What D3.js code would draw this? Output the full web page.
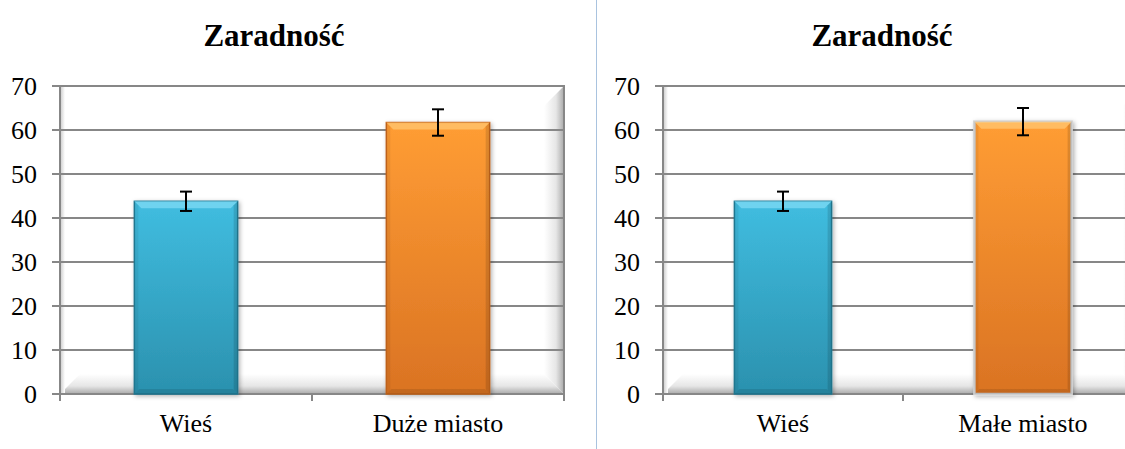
<!DOCTYPE html>
<meta charset="utf-8">
<html>
<head>
    <title>Zaradność</title>
</head>
<style type="text/css">
    body { margin: 0; background: #fff; }
</style>
<script src="https://cdn.jsdelivr.net/npm/d3@7"></script>
<body>
<script type="text/javascript">
// values
var titleText = "Zaradność"
var yTicks = [0, 10, 20, 30, 40, 50, 60, 70]
var leftCategories = ["Wieś", "Duże miasto"]
var leftValues = [43.8, 61.7]
var leftErrors = [2.2, 3.0]
var rightCategories = ["Wieś", "Małe miasto"]
var rightValues = [43.8, 61.9]
var rightErrors = [2.2, 3.1]

var serif = "'Liberation Serif', 'Times New Roman', Tinos, 'DejaVu Serif', serif"
var width = 1125, height = 449
var svg = d3.select("body").append("svg")
    .attr("width", width)
    .attr("height", height)
    .attr("font-family", serif)

var defs = svg.append("defs")

function vgrad(id, stops, horizontal){
    var g = defs.append("linearGradient").attr("id", id)
        .attr("x1", 0).attr("y1", 0)
        .attr("x2", horizontal ? 1 : 0).attr("y2", horizontal ? 0 : 1)
    stops.forEach(s => g.append("stop").attr("offset", s[0]).attr("stop-color", s[1]))
}
vgrad("blueFill", [[0, "#40bde0"], [1, "#2b91ae"]])
vgrad("orangeFill", [[0, "#ff9d34"], [1, "#da7323"]])
vgrad("floorFill", [[0, "#ffffff"], [0.6, "#e6e6e6"], [1, "#a9a9a9"]])
vgrad("wallFill", [[0, "#ffffff"], [0.6, "#e6e6e6"], [1, "#a9a9a9"]], true)
vgrad("axisShade", [[0, "#c8c8c8"], [1, "#ffffff"]], true)

defs.append("filter").attr("id", "shadow")
    .attr("x", "-10%").attr("y", "-10%").attr("width", "130%").attr("height", "130%")
    .append("feDropShadow")
    .attr("dx", 1.5).attr("dy", 1.5).attr("stdDeviation", 2)
    .attr("flood-color", "#000").attr("flood-opacity", 0.3)

var y = d3.scaleLinear().domain([0, 70]).range([394, 86])

// separator between the two charts
svg.append("line")
    .attr("x1", 596.5).attr("x2", 596.5)
    .attr("y1", 0).attr("y2", height)
    .style("stroke", "#a9c3df")
    .style("stroke-width", 1)

function drawChart(opt){
    var g = svg.append("g")
    var x0 = opt.x0, x1 = opt.x1
    var depth = 20
    var x = d3.scaleBand().domain(opt.categories).range([x0, x1])
    var barW = x.bandwidth() * opt.barFrac

    // floor and back side wall
    g.append("path")
        .attr("d", `M${x0},${y(0)} L${x0 + depth},${y(0) - depth} L${x1 - depth},${y(0) - depth} L${x1},${y(0)} Z`)
        .style("fill", "url(#floorFill)")
    g.append("path")
        .attr("d", `M${x1},${y(70)} L${x1 - depth},${y(70) + depth} L${x1 - depth},${y(0) - depth} L${x1},${y(0)} Z`)
        .style("fill", "url(#wallFill)")
    g.append("rect")
        .attr("x", x0).attr("y", y(70))
        .attr("width", 5).attr("height", y(0) - y(70))
        .style("fill", "url(#axisShade)")

    // gridlines with the short tick on the left
    g.selectAll("line.grid")
        .data(yTicks)
        .enter()
        .append("line")
        .attr("class", "grid")
        .attr("x1", x0 - 8).attr("x2", x1)
        .attr("y1", d => y(d)).attr("y2", d => y(d))
        .style("stroke", "#878787")
        .style("stroke-width", 2)

    g.selectAll("text.ytick")
        .data(yTicks)
        .enter()
        .append("text")
        .attr("class", "ytick")
        .attr("x", x0 - 23)
        .attr("y", d => y(d))
        .attr("dy", "0.34em")
        .attr("text-anchor", "end")
        .style("font-family", serif)
        .style("font-size", "26px")
        .text(d => d)

    // axes
    g.append("line")
        .attr("x1", x0).attr("x2", x0)
        .attr("y1", y(70) - 1).attr("y2", y(0) + 7)
        .style("stroke", "#878787").style("stroke-width", 2)
    var bounds = [x0].concat(opt.categories.map(c => x(c) + x.bandwidth()))
    g.selectAll("line.xtick")
        .data(bounds)
        .enter()
        .append("line")
        .attr("class", "xtick")
        .attr("x1", d => d).attr("x2", d => d)
        .attr("y1", y(0)).attr("y2", y(0) + 7)
        .style("stroke", "#878787").style("stroke-width", 2)
    g.append("line")
        .attr("x1", x0).attr("x2", x1)
        .attr("y1", y(0)).attr("y2", y(0))
        .style("stroke", "#878787").style("stroke-width", 2)
    g.append("line")
        .attr("x1", x1).attr("x2", x1)
        .attr("y1", y(70) - 1).attr("y2", y(0) + 7)
        .style("stroke", "#878787").style("stroke-width", 2)

    // bars
    var bars = g.selectAll("g.bar")
        .data(opt.values)
        .enter()
        .append("g")
        .attr("class", "bar")
        .attr("transform", (d, i) => `translate(${x(opt.categories[i]) + (x.bandwidth() - barW) / 2},0)`)
    bars.append("rect")
        .attr("x", 0).attr("y", d => y(d))
        .attr("width", barW).attr("height", d => y(0) - y(d))
        .style("fill", (d, i) => `url(#${opt.fills[i]})`)
        .style("stroke", (d, i) => opt.strokes[i])
        .style("stroke-width", (d, i) => opt.strokeWidths[i])
        .attr("filter", "url(#shadow)")
    // bevel highlights
    var bev = 7
    bars.append("path")
        .attr("d", d => `M0,${y(d)} L${barW},${y(d)} L${barW - bev},${y(d) + bev} L${bev},${y(d) + bev} Z`)
        .style("fill", (d, i) => opt.bevelTop[i])
        .style("opacity", 0.8)
    bars.append("path")
        .attr("d", d => `M${barW},${y(d)} L${barW},${y(0)} L${barW - 4},${y(0) - 4} L${barW - 4},${y(d) + 4} Z`)
        .style("fill", "#000")
        .style("opacity", 0.12)
    bars.append("path")
        .attr("d", d => `M0,${y(d)} L0,${y(0)} L4,${y(0) - 4} L4,${y(d) + 4} Z`)
        .style("fill", "#000")
        .style("opacity", 0.06)
    bars.append("path")
        .attr("d", d => `M0,${y(0)} L${barW},${y(0)} L${barW - 5},${y(0) - 5} L5,${y(0) - 5} Z`)
        .style("fill", "#000")
        .style("opacity", 0.1)

    // error bars
    var err = g.selectAll("g.err")
        .data(opt.values)
        .enter()
        .append("g")
        .attr("class", "err")
        .attr("transform", (d, i) => `translate(${x(opt.categories[i]) + x.bandwidth() / 2},0)`)
    err.append("line")
        .attr("x1", 0).attr("x2", 0)
        .attr("y1", (d, i) => y(d + opt.errors[i]))
        .attr("y2", (d, i) => y(d - opt.errors[i]))
        .style("stroke", "#000").style("stroke-width", 2)
    err.selectAll("line.cap")
        .data((d, i) => [d + opt.errors[i], d - opt.errors[i]])
        .enter()
        .append("line")
        .attr("class", "cap")
        .attr("x1", -6).attr("x2", 6)
        .attr("y1", d => y(d)).attr("y2", d => y(d))
        .style("stroke", "#000").style("stroke-width", 2)

    // category labels
    g.selectAll("text.xlab")
        .data(opt.categories)
        .enter()
        .append("text")
        .attr("class", "xlab")
        .attr("x", d => x(d) + x.bandwidth() / 2)
        .attr("y", 432)
        .attr("text-anchor", "middle")
        .style("font-family", serif)
        .style("font-size", "26px")
        .text(d => d)

    g.append("text")
        .attr("x", opt.titleX)
        .attr("y", 46)
        .attr("text-anchor", "middle")
        .style("font-family", serif)
        .style("font-size", "31px")
        .style("font-weight", "bold")
        .text(titleText)
}

drawChart({
    x0: 60, x1: 564, titleX: 274, barFrac: 0.41,
    categories: leftCategories, values: leftValues, errors: leftErrors,
    fills: ["blueFill", "orangeFill"],
    strokes: ["#237b95", "#c4651d"], strokeWidths: [1.5, 1.5],
    bevelTop: ["#7ad8f2", "#ffc46e"]
})
drawChart({
    x0: 663, x1: 1143, titleX: 882, barFrac: 0.405,
    categories: rightCategories, values: rightValues, errors: rightErrors,
    fills: ["blueFill", "orangeFill"],
    strokes: ["#237b95", "#d0d0d0"], strokeWidths: [1.5, 2.5],
    bevelTop: ["#7ad8f2", "#ffc46e"]
})
</script>
</body>
</html>
